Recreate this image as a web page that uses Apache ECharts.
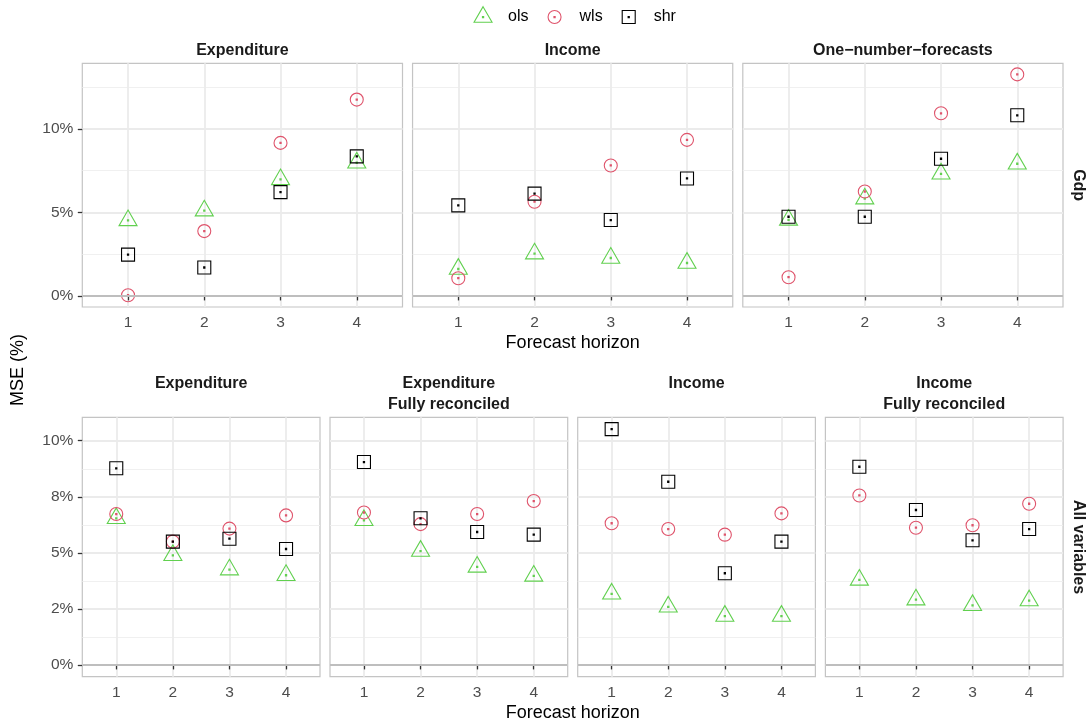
<!DOCTYPE html>
<html><head><meta charset="utf-8">
<script src="https://cdn.jsdelivr.net/npm/echarts@6/dist/echarts.min.js"></script>
<style>html,body{margin:0;padding:0;background:#fff}#c{width:1091px;height:726px}</style>
</head><body><div id="c"></div>
<script>
const horizons = [1, 2, 3, 4];
const methodNames = ['ols', 'wls', 'shr'];
const methodColors = ['#61D04F', '#DF536B', '#000000'];

// Row "Gdp" (MSE, %)
const gdpExpenditureOls = [4.52, 5.10, 6.97, 7.97];
const gdpExpenditureWls = [0.04, 3.88, 9.16, 11.75];
const gdpExpenditureShr = [2.47, 1.70, 6.21, 8.35];
const gdpIncomeOls = [1.61, 2.53, 2.27, 1.97];
const gdpIncomeWls = [1.06, 5.64, 7.81, 9.34];
const gdpIncomeShr = [5.42, 6.12, 4.54, 7.03];
const gdpOneNumberOls = [4.55, 5.82, 7.31, 7.91];
const gdpOneNumberWls = [1.12, 6.25, 10.93, 13.26];
const gdpOneNumberShr = [4.74, 4.74, 8.21, 10.81];

// Row "All variables" (MSE, %)
const allExpenditureOls = [6.54, 4.89, 4.25, 4.00];
const allExpenditureWls = [6.73, 5.50, 6.08, 6.67];
const allExpenditureShr = [8.77, 5.50, 5.63, 5.17];
const allExpFullOls = [6.45, 5.08, 4.37, 3.97];
const allExpFullWls = [6.80, 6.28, 6.73, 7.31];
const allExpFullShr = [9.05, 6.54, 5.93, 5.81];
const allIncomeOls = [3.17, 2.59, 2.18, 2.18];
const allIncomeWls = [6.32, 6.06, 5.81, 6.76];
const allIncomeShr = [10.52, 8.17, 4.09, 5.50];
const allIncFullOls = [3.79, 2.91, 2.66, 2.87];
const allIncFullWls = [7.56, 6.12, 6.23, 7.19];
const allIncFullShr = [8.84, 6.91, 5.56, 6.06];

const topTitles = ['Expenditure', 'Income', 'One\u2212number\u2212forecasts'];
const bottomTitles = ['Expenditure', 'Expenditure\nFully reconciled', 'Income', 'Income\nFully reconciled'];
const rowLabels = ['Gdp', 'All variables'];
const xTitle = 'Forecast horizon';
const yTitle = 'MSE (%)';
const topTickValues = [0, 5, 10];
const topTickLabels = ['0%', '5%', '10%'];
const topMinorValues = [2.5, 7.5, 12.5];
const bottomTickValues = [0, 2.5, 5, 7.5, 10];
const bottomTickLabels = ['0%', '2%', '5%', '8%', '10%'];
const bottomMinorValues = [1.25, 3.75, 6.25, 8.75];

// ---- layout / style ----
const FONT = '"Liberation Sans", Arial, Helvetica, sans-serif';
const AXIS_TEXT = '#4D4D4D';
const DOT = 'M10.4 10.4L11.6 10.4L11.6 11.6L10.4 11.6Z';
const symbolPaths = {
  ols: 'path://M0 0M22 22M11 0.6L20 16.2L2 16.2Z ' + DOT,
  wls: 'path://M0 0M22 22M17.5 11A6.5 6.5 0 1 1 4.5 11A6.5 6.5 0 1 1 17.5 11Z ' + DOT,
  shr: 'path://M0 0M22 22M4.5 4.5L17.5 4.5L17.5 17.5L4.5 17.5Z ' + DOT
};
const LDOT = 'M19.4 10.4L20.6 10.4L20.6 11.6L19.4 11.6Z';
const legendPaths = {
  ols: 'path://M0 0M40 22M20 0.6L29 16.2L11 16.2Z ' + LDOT,
  wls: 'path://M0 0M40 22M26.5 11A6.5 6.5 0 1 1 13.5 11A6.5 6.5 0 1 1 26.5 11Z ' + LDOT,
  shr: 'path://M0 0M40 22M13.5 4.5L26.5 4.5L26.5 17.5L13.5 17.5Z ' + LDOT
};

const rows = [
  {
    label: rowLabels[0], titles: topTitles,
    panels: [
      [gdpExpenditureOls, gdpExpenditureWls, gdpExpenditureShr],
      [gdpIncomeOls, gdpIncomeWls, gdpIncomeShr],
      [gdpOneNumberOls, gdpOneNumberWls, gdpOneNumberShr]
    ],
    ticks: topTickValues, tickLabels: topTickLabels, minor: topMinorValues,
    top: 63.3, height: 243.7, left: 82.3, width: 320.2, gap: 10.05,
    titleY: 50.5, xTitleY: 343.5
  },
  {
    label: rowLabels[1], titles: bottomTitles,
    panels: [
      [allExpenditureOls, allExpenditureWls, allExpenditureShr],
      [allExpFullOls, allExpFullWls, allExpFullShr],
      [allIncomeOls, allIncomeWls, allIncomeShr],
      [allIncFullOls, allIncFullWls, allIncFullShr]
    ],
    ticks: bottomTickValues, tickLabels: bottomTickLabels, minor: bottomMinorValues,
    top: 417.3, height: 259.4, left: 82.3, width: 237.7, gap: 10.0,
    titleY: 383.5, xTitleY: 713.5
  }
];

const grid = [], xAxis = [], yAxis = [], series = [], graphic = [];
const majorLine = { color: '#EBEBEB', width: 1.8 };
const minorLine = { color: '#EEEEEE', width: 0.9 };
const tickLine = { color: '#333333', width: 1.3 };

rows.forEach((row, r) => {
  let yMaxData = 0;
  row.panels.forEach(p => p.forEach(arr => arr.forEach(v => { if (v > yMaxData) yMaxData = v; })));
  const span = yMaxData - 0;
  const yMin = -0.05 * span, yMax = yMaxData + 0.05 * span;
  const labelOf = v => { const k = row.ticks.indexOf(v); return k >= 0 ? row.tickLabels[k] : ''; };

  row.panels.forEach((panel, c) => {
    const gi = grid.length;
    const left = row.left + c * (row.width + row.gap);
    grid.push({
      left: left, top: row.top, width: row.width, height: row.height,
      show: true, borderColor: '#C4C4C4', borderWidth: 1.2, backgroundColor: '#FFFFFF',
      containLabel: false, outerBoundsMode: 'none'
    });
    xAxis.push({
      gridIndex: gi, type: 'value', min: 0.4, max: 4.6,
      axisLine: { show: false },
      axisTick: { show: true, length: 4.5, lineStyle: tickLine, customValues: horizons },
      axisLabel: { show: true, customValues: horizons, color: AXIS_TEXT, fontSize: 15.5, fontFamily: FONT, margin: 8, formatter: v => String(v) },
      splitLine: { show: true, lineStyle: majorLine }
    });
    const first = c === 0;
    yAxis.push({
      gridIndex: gi, type: 'value', min: yMin, max: yMax,
      axisLine: { show: false },
      axisTick: { show: first, length: 4.5, lineStyle: tickLine, customValues: row.ticks },
      axisLabel: { show: first, customValues: row.ticks, color: AXIS_TEXT, fontSize: 15.5, fontFamily: FONT, margin: 9, formatter: labelOf },
      splitLine: { show: true, lineStyle: majorLine }
    });
    yAxis.push({
      gridIndex: gi, type: 'value', min: yMin, max: yMax, position: 'left',
      axisLine: { show: false },
      axisTick: { show: false, customValues: row.minor },
      axisLabel: { show: false, customValues: row.minor },
      splitLine: { show: true, lineStyle: minorLine }
    });
    panel.forEach((vals, m) => {
      const s = {
        type: 'scatter', name: methodNames[m],
        xAxisIndex: gi, yAxisIndex: 2 * gi,
        symbol: symbolPaths[methodNames[m]], symbolSize: 22,
        itemStyle: { color: 'rgba(0,0,0,0)', borderColor: methodColors[m], borderWidth: 1.1, opacity: 1 },
        emphasis: { disabled: true }, silent: true,
        data: horizons.map((h, k) => [h, vals[k]]),
        z: 3 + m
      };
      if (m === 0) {
        s.markLine = {
          silent: true, symbol: ['none', 'none'], label: { show: false },
          lineStyle: { color: '#BEBEBE', width: 1.8, type: 'solid' },
          emphasis: { disabled: true },
          data: [{ yAxis: 0 }]
        };
      }
      series.push(s);
    });
    const title = row.titles[c];
    const nLines = title.split('\n').length;
    const lh = 20.7;
    graphic.push({
      type: 'text', x: left + row.width / 2, y: row.titleY + (nLines - 1) * lh / 2, silent: true,
      style: { text: title, align: 'center', verticalAlign: 'middle', textAlign: 'center', textVerticalAlign: 'middle',
        fontSize: 16, fontWeight: 'bold', fontFamily: FONT, fill: '#1A1A1A', lineHeight: lh }
    });
  });
  const rowRight = row.left + row.panels.length * row.width + (row.panels.length - 1) * row.gap;
  graphic.push({
    type: 'text', x: (row.left + rowRight) / 2, y: row.xTitleY, silent: true,
    style: { text: xTitle, align: 'center', verticalAlign: 'middle', textAlign: 'center', textVerticalAlign: 'middle',
      fontSize: 18, fontFamily: FONT, fill: '#000000' }
  });
  graphic.push({
    type: 'text', x: 1078, y: row.top + row.height / 2, rotation: -Math.PI / 2, silent: true,
    style: { text: row.label, align: 'center', verticalAlign: 'middle', textAlign: 'center', textVerticalAlign: 'middle',
      fontSize: 16, fontWeight: 'bold', fontFamily: FONT, fill: '#1A1A1A' }
  });
});

graphic.push({
  type: 'text', x: 18, y: 370, rotation: Math.PI / 2, silent: true,
  style: { text: yTitle, align: 'center', verticalAlign: 'middle', textAlign: 'center', textVerticalAlign: 'middle',
    fontSize: 18, fontFamily: FONT, fill: '#000000' }
});

const chart = echarts.init(document.getElementById('c'), null, { renderer: 'canvas' });
chart.setOption({
  animation: false,
  backgroundColor: '#FFFFFF',
  legend: {
    left: 462.5, top: 5.5, orient: 'horizontal', padding: 0,
    itemWidth: 40, itemHeight: 22, itemGap: 5.5,
    selectedMode: false,
    textStyle: { fontSize: 16, fontFamily: FONT, color: '#000000' },
    data: methodNames.map((n, m) => ({
      name: n, icon: legendPaths[n],
      itemStyle: { color: 'rgba(0,0,0,0)', borderColor: methodColors[m], borderWidth: 1.1 }
    }))
  },
  grid: grid, xAxis: xAxis, yAxis: yAxis, series: series, graphic: graphic
});
</script></body></html>
